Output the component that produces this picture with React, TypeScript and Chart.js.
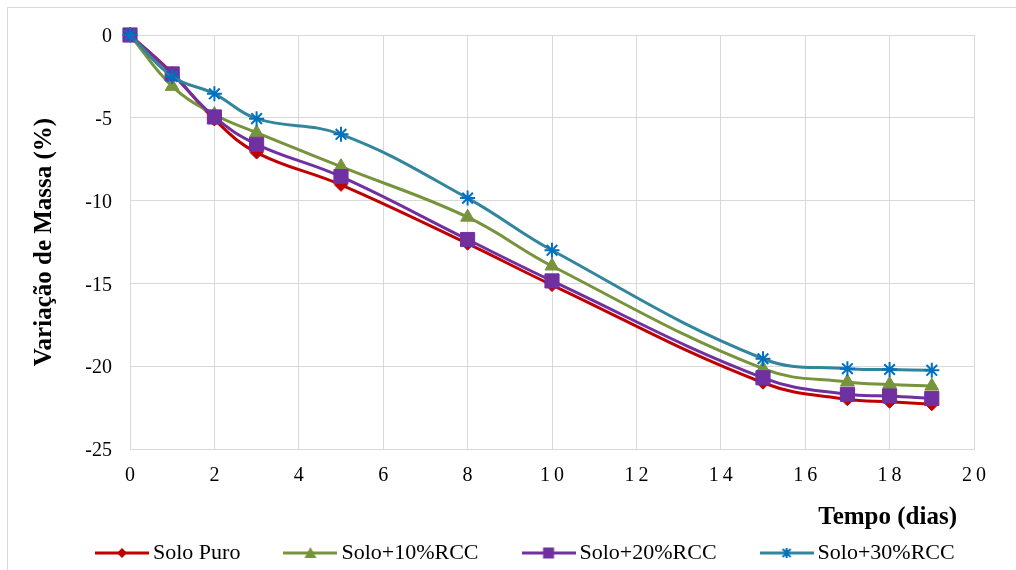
import React, { useEffect, useRef } from 'react';
import { Chart, registerables } from 'chart.js';

Chart.register(...registerables);

// ---- data ----
const days = [0, 1, 2, 3, 5, 8, 10, 15, 17, 18, 19];
const soloPuro = [0, -2.3, -5.1, -7.1, -9.05, -12.6, -15.1, -21.0, -22.0, -22.15, -22.3];
const solo10 = [0, -3.1, -4.8, -5.9, -7.95, -11.0, -13.95, -20.15, -20.95, -21.1, -21.2];
const solo20 = [0, -2.35, -4.95, -6.6, -8.55, -12.35, -14.85, -20.7, -21.7, -21.8, -21.95];
const solo30 = [0, -2.5, -3.55, -5.05, -6.0, -9.85, -13.0, -19.55, -20.15, -20.2, -20.25];
const seriesNames = ['Solo Puro', 'Solo+10%RCC', 'Solo+20%RCC', 'Solo+30%RCC'];
const xTitle = 'Tempo (dias)';
const yTitle = 'Variação de Massa (%)';
const xMin = 0, xMax = 20, xStep = 2;
const yMin = -25, yMax = 0, yStep = 5;

const SERIF = '"Liberation Serif", "Times New Roman", serif';
const lineColors = ['#C00000', '#77933C', '#7030A0', '#31859C'];
const markColors = ['#C00000', '#77933C', '#7030A0', '#0070C0'];
const markStyles = ['rectRot', 'triangle', 'rect', 'star'];
const markRadius = [6.5, 8, 10, 7.5];

function makeIcon(i: number): HTMLCanvasElement {
  const c = document.createElement('canvas');
  c.width = 54;
  c.height = 16;
  const g = c.getContext('2d')!;
  g.strokeStyle = lineColors[i];
  g.lineWidth = 3;
  g.beginPath();
  g.moveTo(0, 8);
  g.lineTo(54, 8);
  g.stroke();
  g.fillStyle = markColors[i];
  g.strokeStyle = markColors[i];
  const cx = 27, cy = 8;
  g.beginPath();
  if (i === 0) {
    g.moveTo(cx, cy - 5); g.lineTo(cx + 5, cy); g.lineTo(cx, cy + 5); g.lineTo(cx - 5, cy); g.closePath(); g.fill();
  } else if (i === 1) {
    g.moveTo(cx, cy - 6); g.lineTo(cx + 6, cy + 5); g.lineTo(cx - 6, cy + 5); g.closePath(); g.fill();
  } else if (i === 2) {
    g.rect(cx - 5.5, cy - 5.5, 11, 11); g.fill();
  } else {
    g.lineWidth = 2;
    g.moveTo(cx, cy - 5); g.lineTo(cx, cy + 5);
    g.moveTo(cx - 4, cy - 4); g.lineTo(cx + 4, cy + 4);
    g.moveTo(cx + 4, cy - 4); g.lineTo(cx - 4, cy + 4);
    g.stroke();
  }
  return c;
}

const decorPlugin = {
  id: 'decor',
  afterDraw(chart: any) {
    const ctx = chart.ctx;
    ctx.save();
    ctx.strokeStyle = '#D9D9D9';
    ctx.lineWidth = 1;
    ctx.strokeRect(7.5, 7.5, 1100, 700);
    ctx.fillStyle = '#000';
    ctx.font = `bold 25px ${SERIF}`;
    ctx.textAlign = 'right';
    ctx.textBaseline = 'alphabetic';
    ctx.fillText(xTitle, 957, 524);
    ctx.restore();
  },
};

export default function App() {
  const ref = useRef<HTMLCanvasElement | null>(null);

  useEffect(() => {
    document.body.style.margin = '0';
    const all = [soloPuro, solo10, solo20, solo30];
    const icons = all.map((_, i) => makeIcon(i));
    const chart = new Chart(ref.current!, {
      type: 'line',
      data: {
        labels: days,
        datasets: all.map((vals, i) => ({
          label: seriesNames[i],
          data: days.map((d, k) => ({ x: d, y: vals[k] })),
          borderColor: lineColors[i],
          backgroundColor: markColors[i],
          borderWidth: 3,
          tension: 0.4,
          clip: false as any,
          pointStyle: markStyles[i] as any,
          pointRadius: markRadius[i],
          pointHoverRadius: markRadius[i],
          pointBackgroundColor: markColors[i],
          pointBorderColor: markColors[i],
          pointBorderWidth: i === 3 ? 2 : 1,
          order: 3 - i,
        })),
      },
      options: {
        responsive: false,
        animation: false,
        layout: { padding: { left: 52, right: 0, top: 35, bottom: -4 } },
        scales: {
          x: {
            type: 'linear',
            min: xMin,
            max: xMax,
            ticks: { stepSize: xStep, padding: 15, labelOffset: 2, color: '#000', font: { family: SERIF, size: 20 } },
            grid: { color: '#D9D9D9', lineWidth: 1, drawTicks: false },
            border: { color: '#D9D9D9' },
            afterFit: (s: any) => { s.height = 43; },
          },
          y: {
            type: 'linear',
            min: yMin,
            max: yMax,
            ticks: { stepSize: yStep, padding: 18, labelOffset: 2, color: '#000', font: { family: SERIF, size: 20 } },
            grid: { color: '#D9D9D9', lineWidth: 1, drawTicks: false },
            border: { color: '#D9D9D9' },
            title: {
              display: true,
              text: yTitle,
              color: '#000',
              font: { family: SERIF, size: 25, weight: 'bold' },
              padding: { top: -22, bottom: 0 },
            },
            afterFit: (s: any) => { s.width = 78; },
          },
          yR: {
            type: 'linear',
            position: 'right',
            display: true,
            ticks: { display: false },
            grid: { display: false },
            border: { display: false },
            afterFit: (s: any) => { s.width = 42; },
          },
        },
        plugins: {
          legend: {
            position: 'bottom',
            align: 'start',
            labels: {
              usePointStyle: true,
              pointStyleWidth: 40,
              boxHeight: 16,
              padding: 50,
              color: '#000',
              font: { family: SERIF, size: 22 },
              sort: (a: any, b: any) => a.datasetIndex - b.datasetIndex,
              generateLabels: (ch: any) =>
                (Chart.defaults.plugins.legend.labels.generateLabels as any)(ch).map((l: any) => ({
                  ...l,
                  pointStyle: icons[l.datasetIndex],
                })),
            },
          },
          tooltip: { enabled: false },
        },
      },
      plugins: [decorPlugin],
    });

    // letter-spaced x tick labels, as in the reference
    const sx: any = chart.scales.x;
    if (sx) {
      const orig = sx.drawLabels.bind(sx);
      sx.drawLabels = (area: any) => {
        const c: any = chart.ctx;
        c.save();
        if ('letterSpacing' in c) c.letterSpacing = '4px';
        orig(area);
        c.restore();
      };
      chart.draw();
    }
    return () => chart.destroy();
  }, []);

  return (
    <div style={{ width: 1016, height: 570 }}>
      <canvas ref={ref} width={1016} height={570} style={{ width: 1016, height: 570, display: 'block' }} />
    </div>
  );
}
